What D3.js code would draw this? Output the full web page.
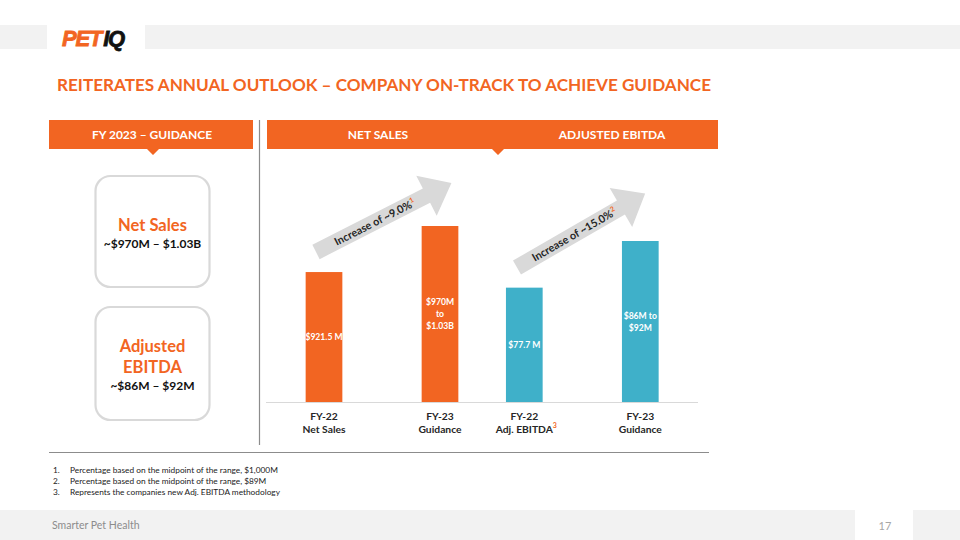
<!DOCTYPE html>
<html>
<head>
<meta charset="utf-8">
<script src="https://cdn.jsdelivr.net/npm/d3@7"></script>
<style>
  html, body { margin: 0; padding: 0; background: #fff; }
  svg { display: block; font-family: Lato, "Open Sans", sans-serif; }
</style>
</head>
<body>
<svg id="chart" width="960" height="540"></svg>
<script>
// ---------------- DATA ----------------
const title = "REITERATES ANNUAL OUTLOOK – COMPANY ON-TRACK TO ACHIEVE GUIDANCE";
const headerLeft = "FY 2023 – GUIDANCE";
const headerGroups = ["NET SALES", "ADJUSTED EBITDA"];

const guidanceBoxes = [
  { title: ["Net Sales"], value: "~$970M – $1.03B" },
  { title: ["Adjusted", "EBITDA"], value: "~$86M – $92M" }
];

const netSalesCategories = [["FY-22", "Net Sales"], ["FY-23", "Guidance"]];
const netSalesValues = [921.5, 1000];          // FY-23 = midpoint of $970M–$1.03B
const netSalesLabels = [["$921.5 M"], ["$970M", "to", "$1.03B"]];

const ebitdaCategories = [["FY-22", "Adj. EBITDA"], ["FY-23", "Guidance"]];
const ebitdaValues = [77.7, 89];               // FY-23 = midpoint of $86M–$92M
const ebitdaLabels = [["$77.7 M"], ["$86M to", "$92M"]];
const categorySuperscripts = [null, null, "3", null];

const increaseLabels = ["Increase of ~9.0%", "Increase of ~15.0%"];
const increaseNotes = ["1", "2"];

const footnotes = [
  "Percentage based on the midpoint of the range, $1,000M",
  "Percentage based on the midpoint of the range, $89M",
  "Represents the companies new Adj. EBITDA methodology"
];
const footerText = "Smarter Pet Health";
const pageNumber = "17";

// ---------------- STYLE ----------------
const ORANGE = "#F26522";
const TEAL = "#3FB0C9";
const GREY_BAR = "#F2F2F2";
const ARROW_GREY = "#D9D9D9";
const DARK = "#262626";

const svg = d3.select("#chart");

// top band + logo
svg.append("rect").attr("x", 0).attr("y", 25).attr("width", 47).attr("height", 24).attr("fill", GREY_BAR);
svg.append("rect").attr("x", 145).attr("y", 25).attr("width", 815).attr("height", 24).attr("fill", GREY_BAR);
const logo = svg.append("text").attr("x", 62).attr("y", 45.5)
  .attr("font-family", "'Liberation Sans', Arial, sans-serif")
  .attr("font-size", 22).attr("font-weight", 900).attr("font-style", "italic")
  .attr("letter-spacing", -1.2).attr("stroke-width", 0.8);
logo.append("tspan").attr("fill", ORANGE).attr("stroke", ORANGE).text("PET");
logo.append("tspan").attr("fill", "#111").attr("stroke", "#111").attr("dx", 2).text("IQ");

// title
svg.append("text").attr("x", 57).attr("y", 91)
  .attr("font-size", 17.5).attr("font-weight", 700).attr("fill", ORANGE)
  .text(title)
  .call(t => { const w = t.node().getComputedTextLength(); if (Math.abs(w - 654) > 4) t.attr("textLength", 654).attr("lengthAdjust", "spacingAndGlyphs"); });

// header boxes with notch
function headerBox(x, y, w, h, notchX) {
  const p = d3.path();
  p.moveTo(x, y); p.lineTo(x + w, y); p.lineTo(x + w, y + h);
  p.lineTo(notchX + 6, y + h); p.lineTo(notchX, y + h + 6); p.lineTo(notchX - 6, y + h);
  p.lineTo(x, y + h); p.closePath();
  svg.append("path").attr("d", p.toString()).attr("fill", ORANGE);
}
headerBox(49, 120, 204, 29, 153);
headerBox(267, 120, 451, 29, 498);
svg.append("text").attr("x", 152).attr("y", 138.5).attr("text-anchor", "middle")
  .attr("font-size", 12).attr("font-weight", 700).attr("fill", "#fff").text(headerLeft);
const headerX = [378, 612];
headerGroups.forEach((g, i) => {
  svg.append("text").attr("x", headerX[i]).attr("y", 138.5).attr("text-anchor", "middle")
    .attr("font-size", 12).attr("font-weight", 700).attr("fill", "#fff").text(g);
});

// divider lines
svg.append("line").attr("x1", 259.5).attr("x2", 259.5).attr("y1", 120).attr("y2", 445)
  .attr("stroke", "#8c8c8c").attr("stroke-width", 1.2);
svg.append("line").attr("x1", 49).attr("x2", 709).attr("y1", 452.5).attr("y2", 452.5)
  .attr("stroke", "#8c8c8c").attr("stroke-width", 1.2);

// guidance boxes
const boxY = [176, 307], boxH = [111, 113];
guidanceBoxes.forEach((b, i) => {
  svg.append("rect").attr("x", 95.5).attr("y", boxY[i]).attr("width", 114).attr("height", boxH[i])
    .attr("rx", 15).attr("fill", "#fff").attr("stroke", "#D9D9D9").attr("stroke-width", 2.2);
});
svg.append("text").attr("x", 152.5).attr("y", 230.5).attr("text-anchor", "middle")
  .attr("font-size", 16.5).attr("font-weight", 700).attr("fill", ORANGE).text(guidanceBoxes[0].title[0]);
svg.append("text").attr("x", 152.5).attr("y", 248).attr("text-anchor", "middle")
  .attr("font-size", 12).attr("font-weight", 700).attr("fill", "#111").text(guidanceBoxes[0].value);
guidanceBoxes[1].title.forEach((t, j) => {
  svg.append("text").attr("x", 152.5).attr("y", 351.5 + j * 21).attr("text-anchor", "middle")
    .attr("font-size", 16.5).attr("font-weight", 700).attr("fill", ORANGE).text(t);
});
svg.append("text").attr("x", 152.5).attr("y", 390).attr("text-anchor", "middle")
  .attr("font-size", 12).attr("font-weight", 700).attr("fill", "#111").text(guidanceBoxes[1].value);

// ---------------- CHART ----------------
const baseY = 402;
const barW = 36.7;
const xNet = d3.scalePoint().domain(netSalesCategories.map(d => d.join(" "))).range([324, 440]);
const xEb = d3.scalePoint().domain(ebitdaCategories.map(d => d.join(" "))).range([524.3, 640.3]);
const yNet = d3.scaleLinear().domain([700, 1000]).range([baseY, 226]);
const yEb = d3.scaleLinear().domain([50, 89]).range([baseY, 241]);

const bars = [
  ...netSalesValues.map((v, i) => ({ cat: netSalesCategories[i], v, label: netSalesLabels[i], x: xNet(netSalesCategories[i].join(" ")), y: yNet(v), color: ORANGE })),
  ...ebitdaValues.map((v, i) => ({ cat: ebitdaCategories[i], v, label: ebitdaLabels[i], x: xEb(ebitdaCategories[i].join(" ")), y: yEb(v), color: TEAL }))
];

svg.append("line").attr("x1", 266).attr("x2", 698).attr("y1", baseY + 0.5).attr("y2", baseY + 0.5)
  .attr("stroke", "#D9D9D9").attr("stroke-width", 1);

svg.selectAll("rect.bar").data(bars).join("rect").attr("class", "bar")
  .attr("x", d => d.x - barW / 2).attr("y", d => d.y)
  .attr("width", barW).attr("height", d => baseY - d.y).attr("fill", d => d.color);

bars.forEach(d => {
  const cy = (d.y + baseY) / 2;
  const lh = 12;
  const n = d.label.length;
  d.label.forEach((l, j) => {
    svg.append("text").attr("x", d.x).attr("y", cy + (j - (n - 1) / 2) * lh + 3.2)
      .attr("text-anchor", "middle").attr("font-size", 8.6).attr("font-weight", 700)
      .attr("fill", "#fff").text(l);
  });
});

bars.forEach((d, i) => {
  d.cat.forEach((l, j) => {
    const t = svg.append("text").attr("x", d.x).attr("y", 419.5 + j * 13)
      .attr("text-anchor", "middle").attr("font-size", 10.3).attr("font-weight", 700)
      .attr("fill", DARK).text(l);
    if (j === 1 && categorySuperscripts[i]) {
      t.append("tspan").attr("font-size", 7).attr("fill", ORANGE).attr("dy", -5).text(categorySuperscripts[i]);
      t.attr("dx", 2);
    }
  });
});

// increase arrows
const arrowGeo = [
  { x: 316, y: 252, angle: -27, len: 152 },
  { x: 517, y: 267.5, angle: -30, len: 148 }
];
const shaftW = 16, headW = 45, headL = 28;
arrowGeo.forEach((a, i) => {
  const g = svg.append("g").attr("transform", `translate(${a.x},${a.y}) rotate(${a.angle})`);
  const L = a.len;
  const p = d3.path();
  p.moveTo(0, -shaftW / 2); p.lineTo(L - headL, -shaftW / 2); p.lineTo(L - headL, -headW / 2);
  p.lineTo(L, 0); p.lineTo(L - headL, headW / 2); p.lineTo(L - headL, shaftW / 2);
  p.lineTo(0, shaftW / 2); p.closePath();
  g.append("path").attr("d", p.toString()).attr("fill", ARROW_GREY);
  const t = g.append("text").attr("x", 66).attr("y", 4).attr("text-anchor", "middle")
    .attr("font-size", 10.8).attr("font-weight", 700).attr("fill", DARK);
  t.append("tspan").text(increaseLabels[i]);
  t.append("tspan").attr("font-size", 7).attr("fill", ORANGE).attr("dy", -4.5).text(increaseNotes[i]);
});

// footnotes
footnotes.forEach((f, i) => {
  svg.append("text").attr("x", 53).attr("y", 472.5 + i * 11.2).attr("font-size", 8.3).attr("fill", "#222").text((i + 1) + ".");
  svg.append("text").attr("x", 70).attr("y", 472.5 + i * 11.2).attr("font-size", 8.3).attr("fill", "#222").text(f);
});

// footer
svg.append("rect").attr("x", 0).attr("y", 510).attr("width", 855).attr("height", 30).attr("fill", GREY_BAR);
svg.append("rect").attr("x", 913).attr("y", 510).attr("width", 47).attr("height", 30).attr("fill", GREY_BAR);
svg.append("text").attr("x", 52).attr("y", 529).attr("font-size", 10.5).attr("fill", "#8c8c8c").text(footerText);
svg.append("text").attr("x", 885).attr("y", 529.5).attr("text-anchor", "middle").attr("font-size", 11).attr("fill", "#a6a6a6").text(pageNumber);
</script>
</body>
</html>
